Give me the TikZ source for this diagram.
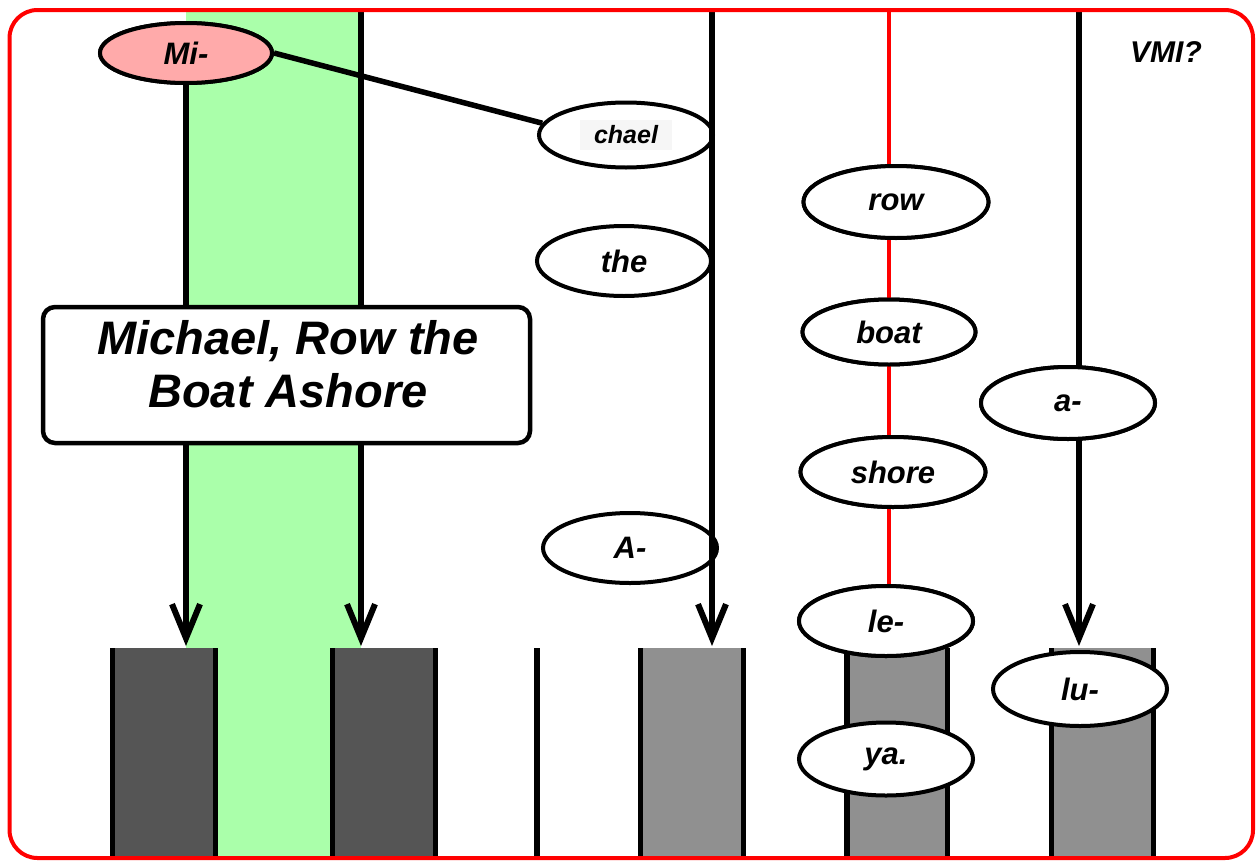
\documentclass[tikz,border=0pt]{standalone}
\usepackage{fontspec}
\setmainfont{Liberation Sans}
\usetikzlibrary{shapes.geometric,arrows.meta}
\definecolor{bandgreen}{HTML}{AAFFAA}
\definecolor{mipink}{HTML}{FFAAAA}
\definecolor{darkbar}{HTML}{555555}
\definecolor{midbar}{HTML}{909090}
\definecolor{chaelbg}{HTML}{F6F6F6}
\begin{document}
\begin{tikzpicture}[x=1pt,y=-1pt,
  syl/.style={ellipse,draw,line width=4pt,fill=white,inner sep=0pt,
    minimum width=174pt,minimum height=70pt,
    font=\fontsize{31}{34}\selectfont\bfseries\itshape},
  stem/.style={line width=5.5pt,-{Straight Barb[length=34pt,width=28pt,line width=6pt]}}]
  \useasboundingbox (0,0) rectangle (1257,862);
  % green band and bottom bars
  \fill[bandgreen] (186,10) rectangle (361,858);
  \foreach \l/\r/\c in {112.5/215.5/darkbar,332.5/435.5/darkbar,640.5/743.5/midbar,847/947.5/midbar,1051.5/1153.5/midbar}{
    \fill[\c] (\l,648) rectangle (\r,858);
    \draw[line width=5.5pt] (\l,648) -- (\l,858) (\r,648) -- (\r,858);
  }
  \draw[line width=5.5pt] (537,648) -- (537,858);
  % tops of the stems and bars
  \coordinate (t2) at (361,10);
  \coordinate (t3) at (712,10);
  \coordinate (t4) at (889,10);
  \coordinate (t5) at (1079,10);
  \coordinate (b1) at (186,646);
  \coordinate (b2) at (361,646);
  \coordinate (b3) at (712,646);
  \coordinate (b5) at (1079,646);
  % syllables
  \node[syl,fill=mipink,minimum width=172pt,minimum height=60pt] (mi) at (186,53) {Mi-};
  \node[syl,minimum height=65pt,font=\fontsize{25}{28}\selectfont\bfseries\itshape] (chael) at (626,135)
    {\setlength\fboxsep{6pt}\colorbox{chaelbg}{\hspace*{8pt}chael\hspace*{8pt}}};
  \node[syl] (the) at (624,261) {the};
  \node[syl] (ah) at (630,548) {A-};
  \node[syl,minimum width=185pt,minimum height=72pt] (row) at (896,202) {row};
  \node[syl,minimum width=173pt,minimum height=65pt] (boat) at (889,332) {boat};
  \node[syl,minimum width=185pt] (shore) at (893,472) {shore};
  \node[syl] (le) at (886,621) {le-};
  \node[syl,minimum height=73pt] (ya) at (886,759) {ya.};
  \node[syl,minimum height=72pt] (a) at (1068,403) {a-};
  \node[syl,minimum height=74pt] (lu) at (1080,689) {lu-};
  % stems
  \draw[stem] (mi.south) -- (b1);
  \draw[stem] (t2) -- (b2);
  \draw[stem] (t3) -- (b3);
  \draw[red,line width=3.5pt] (t4) -- (t4 |- le.north);
  \draw[stem] (t5) -- (b5);
  \draw[line width=5.5pt] (mi.east) -- (chael.172);
  % redraw nodes over stems where they sit on top
  \node[syl,minimum width=185pt,minimum height=72pt] at (row) {row};
  \node[syl,minimum width=173pt,minimum height=65pt] at (boat) {boat};
  \node[syl,minimum width=185pt] at (shore) {shore};
  \node[syl] at (le) {le-};
  \node[syl,minimum height=72pt] at (a) {a-};
  \node[syl,fill=mipink,minimum width=172pt,minimum height=60pt] at (mi) {Mi-};
  % title
  \node[draw,line width=4.5pt,rounded corners=12pt,fill=white,minimum width=487pt,minimum height=136pt] (title) at (286.5,375) {};
  \node[align=center,font=\fontsize{47}{53}\selectfont\bfseries\itshape] (titletext) at (288,364) {Michael, Row the\\Boat Ashore};
  \node[font=\fontsize{30}{33}\selectfont\bfseries\itshape] (vmi) at (1166,52) {VMI?};
  % frame
  \draw[red,line width=4pt,rounded corners=28pt] (9.5,10) rectangle (1253,858);
\end{tikzpicture}
\end{document}
